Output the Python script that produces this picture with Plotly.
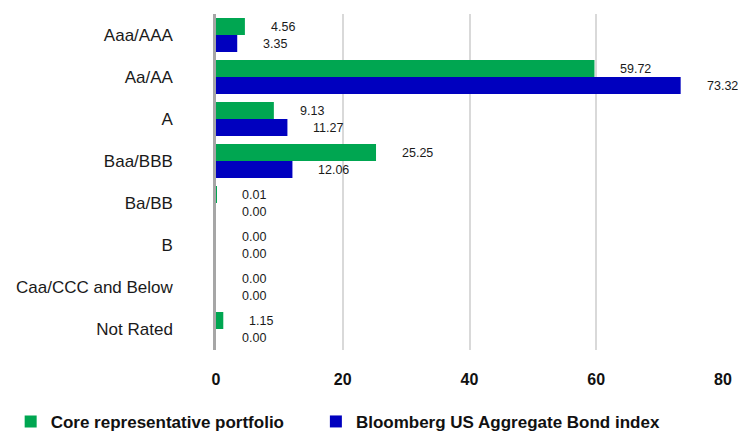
import plotly.graph_objects as go

categories = ["Aaa/AAA", "Aa/AA", "A", "Baa/BBB", "Ba/BB", "B", "Caa/CCC and Below", "Not Rated"]
core_values = [4.56, 59.72, 9.13, 25.25, 0.01, 0.00, 0.00, 1.15]
index_values = [3.35, 73.32, 11.27, 12.06, 0.00, 0.00, 0.00, 0.00]
series_names = ["Core representative portfolio", "Bloomberg US Aggregate Bond index"]
x_ticks = [0, 20, 40, 60, 80]

GREEN = "#00A651"
BLUE = "#0000BF"
FONT = "Liberation Sans, Arial"

fig = go.Figure()
fig.add_trace(go.Bar(y=categories, x=core_values, orientation="h", name=series_names[0],
                     marker=dict(color=GREEN, line=dict(width=0)), legend="legend"))
fig.add_trace(go.Bar(y=categories, x=index_values, orientation="h", name=series_names[1],
                     marker=dict(color=BLUE, line=dict(width=0)), legend="legend2"))

annotations = []
for vals, shift in ((core_values, 8.5), (index_values, -8.5)):
    for c, v in zip(categories, vals):
        annotations.append(dict(x=v, y=c, xref="x", yref="y", text=f"{v:.2f}", showarrow=False,
                                xanchor="left", yanchor="middle", xshift=24, yshift=shift,
                                font=dict(family=FONT, size=12.5, color="#1a1a1a")))

legend_font = dict(family=FONT, size=17, color="#111111", weight="bold")
fig.update_layout(
    width=738, height=435,
    margin=dict(l=216, r=15, t=14, b=85, autoexpand=False),
    plot_bgcolor="white", paper_bgcolor="white",
    barmode="group", bargap=0.19, bargroupgap=0,
    font=dict(family=FONT, color="#1a1a1a"),
    annotations=annotations,
    legend=dict(orientation="h", xref="paper", yref="paper", x=-0.405, y=-0.214,
                xanchor="left", yanchor="middle", font=legend_font, itemwidth=30),
    legend2=dict(orientation="h", xref="paper", yref="paper", x=0.197, y=-0.214,
                 xanchor="left", yanchor="middle", font=legend_font, itemwidth=30),
    showlegend=True,
)
fig.update_xaxes(range=[0, 80], tickvals=x_ticks, showgrid=True, gridcolor="#d9d9d9", gridwidth=1.5,
                 zeroline=False, showline=False, ticks="", automargin=False,
                 tickfont=dict(family=FONT, size=16, color="#111111", weight="bold"), ticklabelstandoff=18)
fig.update_yaxes(autorange="reversed", showline=True, linecolor="#a6a6a6", linewidth=2.5,
                 showgrid=False, ticks="", ticklabelstandoff=37, automargin=False,
                 tickfont=dict(family=FONT, size=17, color="#1a1a1a"))

fig.write_html("out.html", config={"displayModeBar": False},
               post_script="document.body.style.margin='0';")
